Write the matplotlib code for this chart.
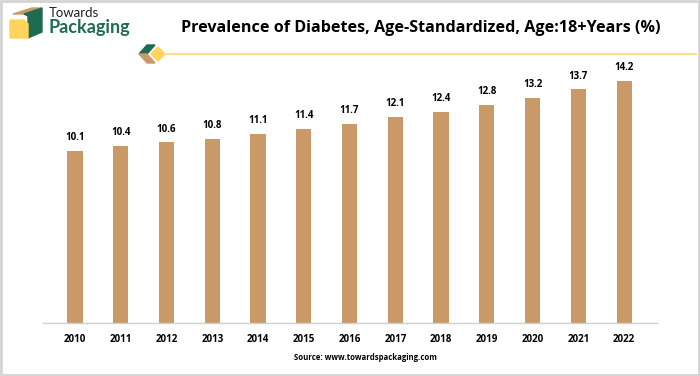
import matplotlib
matplotlib.use("Agg")
import matplotlib.pyplot as plt
from matplotlib.patches import Polygon, Rectangle

years = ["2010", "2011", "2012", "2013", "2014", "2015", "2016", "2017", "2018", "2019", "2020", "2021", "2022"]
values = [10.1, 10.4, 10.6, 10.8, 11.1, 11.4, 11.7, 12.1, 12.4, 12.8, 13.2, 13.7, 14.2]
title = "Prevalence of Diabetes, Age-Standardized, Age:18+Years (%)"
source = "Source: www.towardspackaging.com"

W, H = 700, 376
fig = plt.figure(figsize=(W / 100, H / 100), dpi=100)
fig.patch.set_facecolor("white")

# axes placement
top_px = 41.7
ax = fig.add_axes([43 / W, 53 / H, (657 - 43) / W, (323 - top_px) / H])
x = range(len(years))
ax.bar(x, values, width=0.33, color="#C99A68", zorder=2)
ax.set_ylim(0, 16.5)
ax.set_xlim(-0.70, 12.72)
for s in ["top", "right", "left"]:
    ax.spines[s].set_visible(False)
ax.spines["bottom"].set_color("#d0d0d0")
ax.spines["bottom"].set_linewidth(1.0)
ax.set_yticks([])
ax.set_xticks(list(x))
ax.set_xticklabels(years, fontsize=7, fontweight="bold", family="Open Sans")
ax.tick_params(axis="x", length=0, pad=8)
for i, v in enumerate(values):
    ax.text(i, v + 0.45, f"{v}", ha="center", va="bottom", fontsize=7,
            fontweight="bold", family="Open Sans")

# title
fig.text(421 / W, 1 - 28 / H, title, ha="center", va="center", fontsize=11.6,
         fontweight="bold", family="Open Sans")
# source
fig.text(365 / W, 1 - 357 / H, source, ha="center", va="center", fontsize=5.6,
         fontweight="bold", family="Open Sans")

# decoration: yellow rule and chevron
fig.add_artist(plt.Line2D([165 / W, 696 / W], [1 - 54 / H, 1 - 54 / H], color="#FFE08A",
                          linewidth=1.5, transform=fig.transFigure))

def px(pts):
    return [(a / W, 1 - b / H) for a, b in pts]

fig.add_artist(Polygon(px([(147, 45), (155, 45), (147, 54), (139, 54)]), closed=True,
                       color="#1E6B52", transform=fig.transFigure))
fig.add_artist(Polygon(px([(139, 54), (147, 54), (155, 63), (147, 63)]), closed=True,
                       color="#C99A68", transform=fig.transFigure))
fig.add_artist(Polygon(px([(158, 47), (165, 54), (158, 61), (151, 54)]), closed=True,
                       color="#FFD35C", transform=fig.transFigure))

# logo
fig.add_artist(Polygon(px([(13, 14), (32, 8), (42, 8), (24, 14)]), closed=True,
                       color="#C99A68", transform=fig.transFigure))
fig.add_artist(Polygon(px([(24, 14), (42, 8), (42, 32), (28, 38), (28, 16)]), closed=True,
                       color="#1E6B52", transform=fig.transFigure))
fig.add_artist(Polygon(px([(10, 20), (24, 20), (28, 24), (28, 38), (10, 38)]), closed=True,
                       color="#FFD35C", transform=fig.transFigure))
fig.text(49 / W, 1 - 13 / H, "Towards", ha="left", va="center", fontsize=9.5,
         family="Lato", color="#222222")
fig.text(48 / W, 1 - 28 / H, "Packaging", ha="left", va="center", fontsize=13,
         fontweight="bold", family="Lato", color="#1E6B52")

# border
fig.add_artist(Rectangle((0.001, 0.002), 0.997, 0.996, fill=False, edgecolor="#d4d4d4",
                         linewidth=2, transform=fig.transFigure))

fig.savefig("out.png", dpi=100, facecolor="white")
